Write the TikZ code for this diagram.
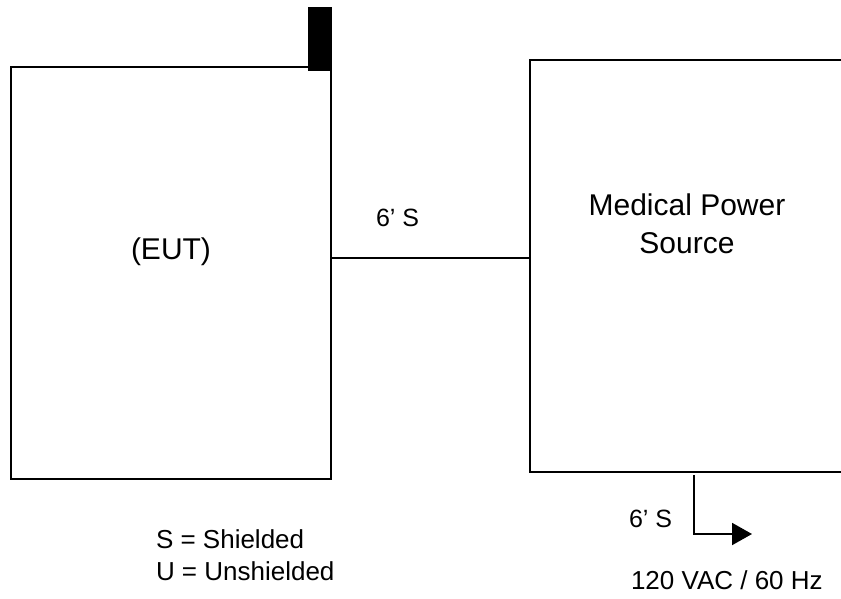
\documentclass[tikz,border=0pt]{standalone}
\usepackage{fontspec}
\setmainfont{Liberation Sans}
\usetikzlibrary{arrows.meta}
\begin{document}
\begin{tikzpicture}[x=1pt,y=-1pt,line width=2pt,
  lbl/.style={inner sep=0pt,font=\fontsize{25}{30}\selectfont},
  leglbl/.style={inner sep=0pt,font=\fontsize{26}{31}\selectfont},
  biglbl/.style={inner sep=0pt,font=\fontsize{30}{36}\selectfont},
  box/.style={draw,line width=2pt,inner sep=0pt}]
\useasboundingbox (0,0) rectangle (841,598);
% EUT box
\node[box,minimum width=320pt,minimum height=412pt,anchor=north west] (eut) at (10,66) {};
\node[fill=black,inner sep=0pt,minimum width=24pt,minimum height=64pt,anchor=north west] (tab) at (307,6) {};
\node[biglbl,anchor=base west] (eutlbl) at (130,259) {(EUT)};
% power source box (open to the right)
\coordinate (ps-ne) at (841,60);
\coordinate (ps-nw) at (530,60);
\coordinate (ps-sw) at (530,472);
\coordinate (ps-se) at (841,472);
\draw (ps-ne) -- (ps-nw) -- (ps-sw) -- (ps-se);
\node[biglbl,anchor=base] (ps1) at (687,215) {Medical Power};
\node[biglbl,anchor=base] (ps2) at (687,253) {Source};
% cable EUT - power source
\coordinate (cabA) at (eut.east |- 0,258);
\coordinate (cabB) at (530,258);
\draw (cabA) -- (cabB);
\node[lbl,anchor=base west] (c1) at (375,226) {6’ S};
% mains cable
\coordinate (mA) at (694,475);
\coordinate (mB) at (694,534);
\coordinate (mC) at (752,534);
\draw[-{Triangle[length=20pt,width=22pt]}] (mA) -- (mB) -- (mC);
\node[lbl,anchor=base west] (c2) at (628,527) {6’ S};
\node[leglbl,anchor=base west] (mains) at (630,589) {120 VAC / 60 Hz};
% legend
\node[leglbl,anchor=base west] (leg1) at (155,548) {S = Shielded};
\node[leglbl,anchor=base west] (leg2) at (155,580) {U = Unshielded};
\end{tikzpicture}
\end{document}
